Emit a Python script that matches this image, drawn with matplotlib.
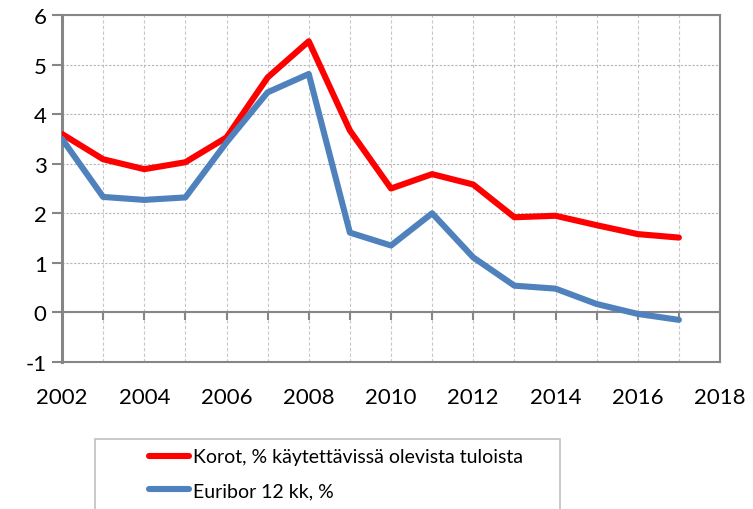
import matplotlib

matplotlib.use("Agg")

import matplotlib.pyplot as plt
from matplotlib.patches import Rectangle

years = list(range(2002, 2018))
korot = [3.60, 3.09, 2.89, 3.03, 3.53, 4.74, 5.47, 3.67,
         2.50, 2.79, 2.58, 1.92, 1.95, 1.76, 1.58, 1.51]
euribor = [3.50, 2.33, 2.27, 2.32, 3.43, 4.44, 4.81, 1.61,
           1.35, 2.00, 1.11, 0.54, 0.48, 0.17, -0.03, -0.15]
labels = ["Korot, % käytettävissä olevista tuloista", "Euribor 12 kk, %"]

W, H = 753, 510
plt.rcParams["font.family"] = ["Lato", "DejaVu Sans"]
plt.rcParams["axes.unicode_minus"] = False

fig = plt.figure(figsize=(W / 100, H / 100), dpi=100)
ax = fig.add_axes([62 / W, 1 - 363 / H, (720 - 62) / W, (363 - 16) / H])

frame = "#868686"
ax.set_xlim(2002, 2018)
ax.set_ylim(-1, 6)
ax.set_xticks(range(2002, 2019, 2))
ax.set_xticks(range(2002, 2019), minor=True)
ax.set_yticks(range(-1, 7))
ax.grid(True, which="both", axis="x", color="#c8c8c8", linestyle=(0, (3, 2)), linewidth=0.8)
ax.grid(True, axis="y", color="#b4b4b4", linestyle=(0, (2, 1.5)), linewidth=0.8)
ax.set_axisbelow(True)

for side, sp in ax.spines.items():
    sp.set_color(frame)
    sp.set_linewidth(1.5)
ax.spines["left"].set_linewidth(2.2)

ax.tick_params(axis="x", which="both", length=0, pad=18, labelsize=16)
ax.tick_params(axis="y", length=7, width=1.5, color=frame, pad=4, labelsize=16)

# zero line with downward ticks at each year
ax.axhline(0, color=frame, linewidth=1.5, zorder=1)
ax.vlines(range(2003, 2018), 0, -0.16, color=frame, linewidth=1.5, zorder=1)

l1, = ax.plot(years, korot, color="#ff0000", linewidth=4.4, solid_capstyle="round", zorder=3)
l2, = ax.plot(years, euribor, color="#4f81bd", linewidth=4.4, solid_capstyle="round", zorder=3)

fig.patches.append(Rectangle((95 / W, -0.05), (560 - 95) / W, 0.05 + (H - 440) / H,
                             transform=fig.transFigure, facecolor="white",
                             edgecolor="#c0c0c0", linewidth=1.2))
fig.legend([l1, l2], labels, loc="upper left", bbox_to_anchor=(131 / W, 1 - 432 / H),
           frameon=False, fontsize=14, handlelength=2.1, handletextpad=0.2,
           labelspacing=0.85)

fig.savefig("out.png", dpi=100)
